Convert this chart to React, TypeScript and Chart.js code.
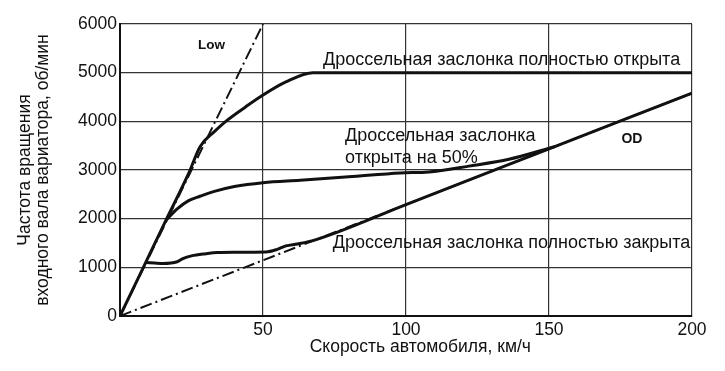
import React, { useEffect, useRef } from "react";
import { Chart, registerables } from "chart.js";

Chart.register(...registerables);

// Speed, km/h (x) and CVT input-shaft speed, rpm (y)
const speedFull = [0, 8, 16, 24, 28, 33, 37, 44, 50, 58, 67.5, 100, 150, 200];
const rpmFull = [0, 980, 1960, 2930, 3480, 3790, 4000, 4300, 4540, 4810, 5000, 5000, 5000, 5000];

const speedHalf = [16, 20, 24, 28, 33, 40, 50, 63, 80, 98, 108, 122, 136, 152];
const rpmHalf = [1960, 2200, 2370, 2460, 2560, 2660, 2740, 2790, 2860, 2940, 2960, 3080, 3220, 3480];

const speedClosed = [9, 12, 15, 20, 22, 25, 30, 34, 40, 51, 55, 58, 62, 68, 100, 150, 200];
const rpmClosed = [1100, 1090, 1080, 1115, 1180, 1235, 1280, 1305, 1310, 1315, 1370, 1440, 1480, 1560, 2290, 3435, 4580];

const speedLow = [0, 50];
const rpmLow = [0, 6000];

const speedOD = [0, 200];
const rpmOD = [0, 4580];

const xTicks = [0, 50, 100, 150, 200];
const yTicks = [0, 1000, 2000, 3000, 4000, 5000, 6000];

const xTitle = "Скорость автомобиля, км/ч";
const yTitle = ["Частота вращения", "входного вала вариатора, об/мин"];

// annotation texts with data-space anchors
const annotations = [
  { text: ["Low"], x: 32, y: 5570, bold: true, size: 13.5, align: "center" },
  { text: ["Дроссельная заслонка полностью открыта"], x: 71, y: 5260, bold: false, size: 18, align: "left" },
  { text: ["Дроссельная заслонка", "открыта на 50%"], x: 78.7, y: 3705, bold: false, size: 18, align: "left" },
  { text: ["OD"], x: 179, y: 3640, bold: true, size: 14, align: "center" },
  { text: ["Дроссельная заслонка полностью закрыта"], x: 74.4, y: 1494, bold: false, size: 18, align: "left" },
];

const FONT = "'Liberation Sans', Arial, sans-serif";

const pts = (xs: number[], ys: number[]) => xs.map((x, i) => ({ x, y: ys[i] }));

const annotationPlugin = {
  id: "textAnnotations",
  afterDatasetsDraw(chart: any) {
    const { ctx, scales } = chart;
    ctx.save();
    ctx.fillStyle = "#111";
    ctx.textBaseline = "middle";
    for (const a of annotations) {
      ctx.font = `${a.bold ? "bold " : ""}${a.size}px ${FONT}`;
      ctx.textAlign = a.align;
      const px = scales.x.getPixelForValue(a.x);
      const py = scales.y.getPixelForValue(a.y);
      a.text.forEach((line, i) => ctx.fillText(line, px, py + i * 22));
    }
    // x-axis title, centred slightly right of the plot centre as in the original
    ctx.font = `17.5px ${FONT}`;
    ctx.textAlign = "center";
    ctx.fillText(xTitle, scales.x.getPixelForValue(105), chart.chartArea.bottom + 31);
    ctx.restore();
  },
};

export default function App() {
  const ref = useRef<HTMLCanvasElement>(null);
  useEffect(() => {
    if (!ref.current) return;
    const solid = { borderColor: "#111", borderWidth: 3, pointRadius: 0, fill: false, cubicInterpolationMode: "monotone" as const };
    const dashed = { borderColor: "#111", borderWidth: 2, pointRadius: 0, fill: false, tension: 0, borderDash: [12, 4, 2, 4] };
    const chart = new Chart(ref.current, {
      type: "line",
      data: {
        datasets: [
          { label: "Полностью открыта", data: pts(speedFull, rpmFull), ...solid },
          { label: "Открыта на 50%", data: pts(speedHalf, rpmHalf), ...solid },
          { label: "Полностью закрыта", data: pts(speedClosed, rpmClosed), ...solid },
          { label: "Low", data: pts(speedLow, rpmLow), ...dashed },
          { label: "OD", data: pts(speedOD, rpmOD), ...dashed },
        ],
      },
      options: {
        animation: false,
        responsive: false,
        layout: { padding: { left: 0, right: 25, top: 16, bottom: 0 } },
        plugins: { legend: { display: false }, tooltip: { enabled: false } },
        scales: {
          x: {
            type: "linear",
            min: 0,
            max: 200,
            afterBuildTicks: (s: any) => { s.ticks = xTicks.map((v) => ({ value: v })); },
            afterFit: (s: any) => { s.height = 47; },
            ticks: {
              padding: 4,
              color: "#111",
              font: { family: FONT, size: 17.5 },
              callback: (v: any) => (v === 0 ? "" : String(v)),
            },
            grid: { color: "#333", lineWidth: 1.2, drawTicks: false },
            border: { color: "#111", width: 2 },
            title: { display: false },
          },
          y: {
            type: "linear",
            min: 0,
            max: 6000,
            afterBuildTicks: (s: any) => { s.ticks = yTicks.map((v) => ({ value: v })); },
            afterFit: (s: any) => { s.width = 112; },
            ticks: { padding: 3, color: "#111", font: { family: FONT, size: 17.5 }, callback: (v: any) => String(v) },
            grid: { color: "#333", lineWidth: 1.2, drawTicks: false },
            border: { color: "#111", width: 2 },
            title: { display: true, text: yTitle, color: "#111", font: { family: FONT, size: 17.5, lineHeight: 18 / 17.5 }, padding: { top: 8, bottom: 0 } },
          },
        },
      },
      plugins: [annotationPlugin],
    } as any);
    return () => chart.destroy();
  }, []);
  return (
    <div style={{ width: 709, height: 355 }}>
      <canvas ref={ref} width={709} height={355} />
    </div>
  );
}
